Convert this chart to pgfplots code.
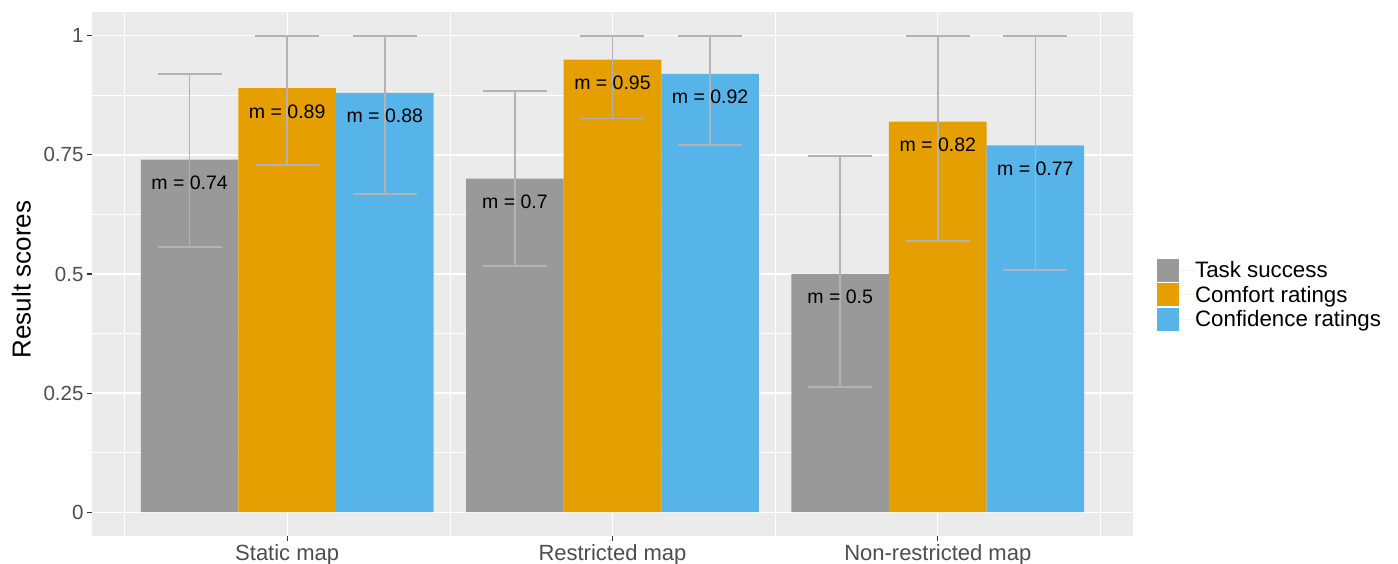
\documentclass[border=0pt]{standalone}
\usepackage{pgfplots}
\usepackage{pgfplotstable}
\usepackage{fontspec}
\setmainfont{Liberation Sans}
\pgfplotsset{compat=1.18}

\definecolor{taskgray}{HTML}{999999}
\definecolor{comfortorange}{HTML}{E69F00}
\definecolor{confblue}{HTML}{56B4E9}
\definecolor{panelgray}{HTML}{EBEBEB}
\definecolor{errgray}{HTML}{B3B3B3}
\definecolor{ticktext}{HTML}{4D4D4D}
\definecolor{tickmark}{HTML}{333333}

% mean score, error bar extent above / below the mean, printed label
\pgfplotstableread{
x    y     plus   minus  lab
0.7  0.74  0.180  0.183  0.74
1.7  0.70  0.184  0.183  0.7
2.7  0.50  0.248  0.237  0.5
}\tasktab
\pgfplotstableread{
x    y     plus   minus  lab
1.0  0.89  0.110  0.161  0.89
2.0  0.95  0.050  0.124  0.95
3.0  0.82  0.180  0.251  0.82
}\comforttab
\pgfplotstableread{
x    y     plus   minus  lab
1.3  0.88  0.120  0.212  0.88
2.3  0.92  0.080  0.149  0.92
3.3  0.77  0.230  0.262  0.77
}\conftab

\begin{document}
\begin{tikzpicture}
\begin{axis}[
  at={(92pt,27pt)}, anchor=south west,
  scale only axis, width=1041pt, height=524pt,
  xmin=0.4, xmax=3.6, ymin=-0.05, ymax=1.05,
  xtick={1,2,3},
  xticklabels={Static map, Restricted map, Non-restricted map},
  ytick={0,0.25,0.5,0.75,1},
  yticklabels={0,0.25,0.5,0.75,1},
  minor xtick={0.5,1.5,2.5,3.5},
  minor ytick={0.125,0.375,0.625,0.875},
  grid=both,
  major grid style={white, line width=1.3pt},
  minor grid style={white, line width=0.6pt},
  axis background/.style={fill=panelgray},
  axis line style={draw=none},
  tick pos=left, tick align=outside,
  major tick length=5pt, minor tick length=0pt,
  tick style={tickmark, line width=1.1pt},
  xticklabel style={font=\fontsize{22}{26}\selectfont, text=ticktext},
  yticklabel style={font=\fontsize{20.5}{24}\selectfont, text=ticktext},
  ylabel={Result scores},
  ylabel style={font=\fontsize{26}{30}\selectfont, at={(axis description cs:-0.0586,0.4895)},
    anchor=south, inner sep=0pt},
  legend style={at={(axis description cs:1.023,0.46)}, anchor=west,
    draw=none, fill=none, inner sep=0pt, row sep=1.5pt,
    font=\fontsize{22.3}{26}\selectfont, nodes={inner sep=0pt}},
  legend cell align=left,
  legend image code/.code={\fill[#1] (0pt,-11.5pt) rectangle (22pt,11.5pt); \path (22pt,0pt) -- (38pt,0pt);},
  bar width=0.3, bar shift=0pt,
  point meta=explicit symbolic,
  nodes near coords={m = \pgfplotspointmeta},
  nodes near coords style={anchor=north, yshift=-16pt, inner sep=0pt,
    font=\fontsize{19.5}{23}\selectfont, text=black},
]
\addplot[ybar, fill=taskgray, draw=none] table[x=x, y=y, meta=lab] {\tasktab};
\addlegendentry{Task success}
\addplot[ybar, fill=comfortorange, draw=none] table[x=x, y=y, meta=lab] {\comforttab};
\addlegendentry{Comfort ratings}
\addplot[ybar, fill=confblue, draw=none] table[x=x, y=y, meta=lab] {\conftab};
\addlegendentry{Confidence ratings}

% error bars on top of all bars and labels
\pgfplotsset{errstyle/.style={forget plot, only marks, mark=none, nodes near coords={},
  error bars/.cd, y dir=both, y explicit,
  error bar style={draw=errgray, line width=1.5pt},
  error mark options={rotate=90, draw=errgray, line width=1.5pt, mark size=32pt}}}
\addplot[errstyle] table[x=x, y=y, y error plus=plus, y error minus=minus] {\tasktab};
\addplot[errstyle] table[x=x, y=y, y error plus=plus, y error minus=minus] {\comforttab};
\addplot[errstyle] table[x=x, y=y, y error plus=plus, y error minus=minus] {\conftab};
\end{axis}
\pgfresetboundingbox
\useasboundingbox (0,0) rectangle (1398pt,563pt);
\end{tikzpicture}
\end{document}
